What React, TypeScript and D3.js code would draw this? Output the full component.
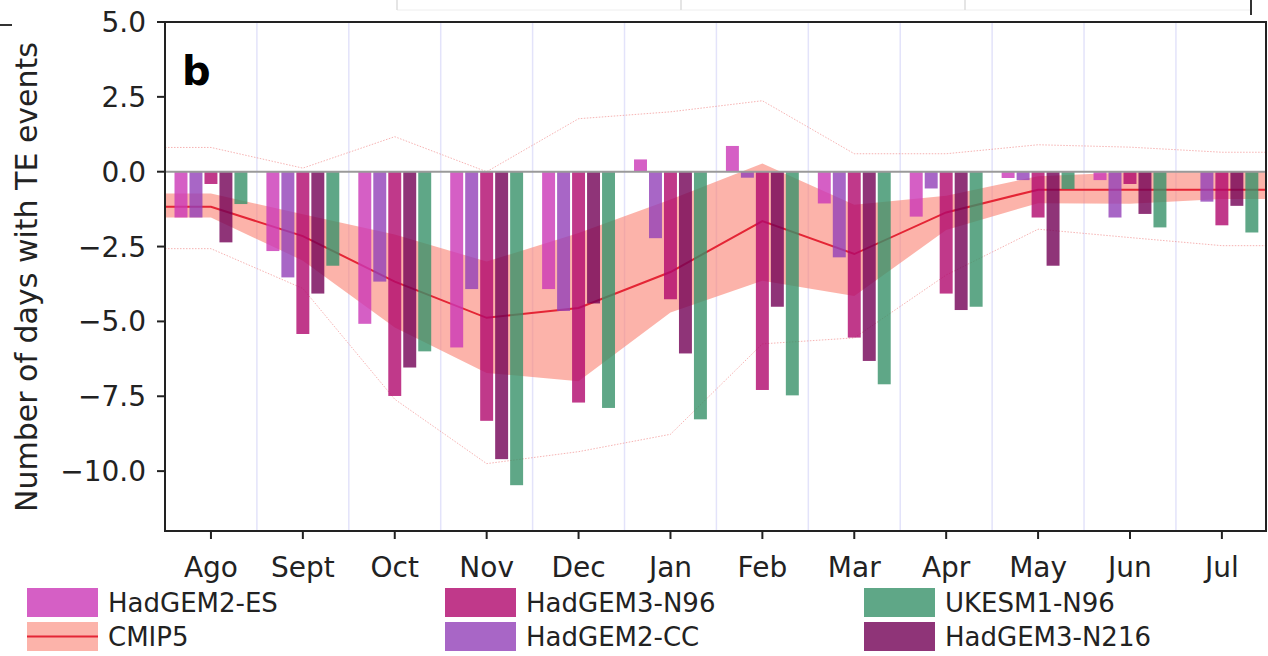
import React from 'react';
import * as d3 from 'd3';

const months = ['Ago', 'Sept', 'Oct', 'Nov', 'Dec', 'Jan', 'Feb', 'Mar', 'Apr', 'May', 'Jun', 'Jul'];

const hadgem2ES = [-1.53, -2.65, -5.08, -5.87, -3.92, 0.41, 0.86, -1.06, -1.5, -0.21, -0.28, 0];
const hadgem2CC = [-1.53, -3.53, -3.67, -3.92, -4.65, -2.22, -0.2, -2.86, -0.56, -0.28, -1.53, -1.0];
const hadgem3N96 = [-0.41, -5.42, -7.49, -8.32, -7.71, -4.26, -7.29, -5.54, -4.07, -1.53, -0.41, -1.79];
const hadgem3N216 = [-2.36, -4.07, -6.54, -9.6, -4.4, -6.07, -4.51, -6.32, -4.62, -3.14, -1.41, -1.14];
const ukesm1N96 = [-1.08, -3.14, -6.0, -10.47, -7.89, -8.27, -7.47, -7.1, -4.51, -0.58, -1.86, -2.03];

const cmip5Median = [-1.17, -2.15, -3.67, -4.88, -4.55, -3.35, -1.65, -2.75, -1.36, -0.6, -0.6, -0.6];
const cmip5Upper = [-0.73, -1.42, -2.1, -3.0, -2.05, -0.93, 0.27, -1.1, -0.8, -0.15, -0.02, 0.0];
const cmip5Lower = [-1.53, -2.97, -5.2, -6.72, -7.0, -4.7, -3.64, -4.15, -1.95, -1.05, -1.07, -0.91];
const cmip5Max = [0.81, 0.12, 1.17, 0.0, 1.77, 2.0, 2.37, 0.6, 0.6, 0.9, 0.82, 0.65];
const cmip5Min = [-2.57, -3.9, -7.6, -9.75, -9.35, -8.77, -5.75, -5.55, -3.45, -1.92, -2.2, -2.47];

const yTicks = [5, 2.5, 0, -2.5, -5, -7.5, -10];

const barSeries = [
  { name: 'HadGEM2-ES', values: hadgem2ES, color: '#ca37b7' },
  { name: 'HadGEM2-CC', values: hadgem2CC, color: '#9240b8' },
  { name: 'HadGEM3-N96', values: hadgem3N96, color: '#b0076d' },
  { name: 'HadGEM3-N216', values: hadgem3N216, color: '#730156' },
  { name: 'UKESM1-N96', values: ukesm1N96, color: '#379169' },
];

const legendItems = [
  { name: 'HadGEM2-ES', kind: 'bar', col: 0, row: 0 },
  { name: 'CMIP5', kind: 'band', col: 0, row: 1 },
  { name: 'HadGEM3-N96', kind: 'bar', col: 1, row: 0 },
  { name: 'HadGEM2-CC', kind: 'bar', col: 1, row: 1 },
  { name: 'UKESM1-N96', kind: 'bar', col: 2, row: 0 },
  { name: 'HadGEM3-N216', kind: 'bar', col: 2, row: 1 },
];

const W = 1268;
const H = 656;
const FONT = '"DejaVu Sans", sans-serif';
const BAR_ALPHA = 0.8;
const BAND_COLOR = '#fa8072';
const LINE_COLOR = '#e42535';

export default function App() {
  const x = d3.scaleLinear().domain([-0.5, 11.48]).range([165, 1266]);
  const y = d3.scaleLinear().domain([-12, 5]).range([531, 22]);
  const [xMin, xMax] = x.domain();

  const idx = months.map((_, i) => i);
  const extX = [xMin, ...idx, xMax];
  const ext = (arr: number[]) => [arr[0], ...arr, arr[arr.length - 1]];

  const medianExt = ext(cmip5Median);
  const upperExt = ext(cmip5Upper);
  const lowerExt = ext(cmip5Lower);
  const maxExt = ext(cmip5Max);
  const minExt = ext(cmip5Min);

  const area = d3
    .area<number>()
    .x((_, i) => x(extX[i]))
    .y0((_, i) => y(lowerExt[i]))
    .y1((_, i) => y(upperExt[i]));

  const lineOf = (vals: number[]) =>
    d3
      .line<number>()
      .x((_, i) => x(extX[i]))
      .y((d) => y(d))(vals) as string;

  const step = 0.163;
  const bw = 0.141;
  const unit = x(1) - x(0);

  const boundaries = d3.range(xMin + 1, xMax, 1);

  const colorOf = (name: string) => barSeries.find((s) => s.name === name)?.color || '#000';

  return (
    <svg
      width={W}
      height={H}
      style={{ position: 'absolute', left: 0, top: 0, background: '#fff' }}
      fontFamily={FONT}
    >
      <rect x={0} y={0} width={W} height={H} fill="#fff" />
      {/* fragments of neighbouring panel */}
      <line x1={0} x2={12} y1={25} y2={25} stroke="#333" strokeWidth={2} />
      <line x1={397} x2={1251} y1={10} y2={10} stroke="#eeeeee" strokeWidth={1} />
      {[397, 681, 965].map((v) => (
        <line key={v} x1={v} x2={v} y1={0} y2={10} stroke="#dddddd" strokeWidth={1.5} />
      ))}
      <line x1={1251} x2={1251} y1={0} y2={15} stroke="#333" strokeWidth={2} />

      {/* vertical grid lines */}
      {boundaries.map((b) => (
        <line key={b} x1={x(b)} x2={x(b)} y1={y(5)} y2={y(-12)} stroke="#e3e3fa" strokeWidth={1.5} />
      ))}

      {/* CMIP5 band */}
      <path d={area(medianExt) as string} fill={BAND_COLOR} fillOpacity={0.6} stroke="none" />
      <path d={lineOf(maxExt)} fill="none" stroke="#f08080" strokeOpacity={0.6} strokeWidth={1} strokeDasharray="1.5,1.5" />
      <path d={lineOf(minExt)} fill="none" stroke="#f08080" strokeOpacity={0.6} strokeWidth={1} strokeDasharray="1.5,1.5" />
      <path d={lineOf(medianExt)} fill="none" stroke={LINE_COLOR} strokeWidth={2} />

      {/* bars */}
      {barSeries.map((s, si) =>
        s.values.map((v, i) => {
          const cx = i + (si - 2) * step;
          const x0 = x(cx - bw / 2);
          const x1 = x(cx + bw / 2);
          const y0 = y(Math.max(0, v));
          const y1 = y(Math.min(0, v));
          return (
            <rect
              key={`${si}-${i}`}
              x={x0}
              y={y0}
              width={x1 - x0}
              height={Math.max(0, y1 - y0)}
              fill={s.color}
              fillOpacity={BAR_ALPHA}
            />
          );
        })
      )}

      {/* zero line */}
      <line x1={x(xMin)} x2={x(xMax)} y1={y(0)} y2={y(0)} stroke="#9a9a9a" strokeWidth={2} />

      {/* spines */}
      <rect
        x={x(xMin)}
        y={y(5)}
        width={x(xMax) - x(xMin)}
        height={y(-12) - y(5)}
        fill="none"
        stroke="#222"
        strokeWidth={2}
      />

      {/* y ticks */}
      {yTicks.map((t) => (
        <g key={t}>
          <line x1={x(xMin) - 8} x2={x(xMin)} y1={y(t)} y2={y(t)} stroke="#222" strokeWidth={2} />
          <text x={146} y={y(t)} dy="0.36em" textAnchor="end" fontSize={28} fill="#222">
            {d3.format('.1f')(t)}
          </text>
        </g>
      ))}

      {/* x ticks */}
      {months.map((m, i) => (
        <g key={m}>
          <line x1={x(i)} x2={x(i)} y1={y(-12)} y2={y(-12) + 8} stroke="#222" strokeWidth={2} />
          <text x={x(i)} y={577} textAnchor="middle" fontSize={28} fill="#222">
            {m}
          </text>
        </g>
      ))}

      {/* y label */}
      <text
        transform={`translate(37, 277) rotate(-90)`}
        textAnchor="middle"
        fontSize={30}
        fill="#222"
      >
        Number of days with TE events
      </text>

      {/* panel letter */}
      <text x={182} y={85} fontSize={40} fontWeight="bold" fill="#000">
        b
      </text>

      {/* legend */}
      {legendItems.map((it) => {
        const colX = [27, 445, 864][it.col];
        const rowY = [588, 622][it.row];
        const pw = 71;
        const ph = 29;
        return (
          <g key={it.name}>
            {it.kind === 'bar' ? (
              <rect x={colX} y={rowY} width={pw} height={ph} fill={colorOf(it.name)} fillOpacity={BAR_ALPHA} />
            ) : (
              <g>
                <rect x={colX} y={rowY} width={pw} height={ph} fill={BAND_COLOR} fillOpacity={0.6} />
                <line x1={colX} x2={colX + pw} y1={rowY + ph / 2} y2={rowY + ph / 2} stroke={LINE_COLOR} strokeWidth={2} />
              </g>
            )}
            <text x={colX + pw + 10} y={rowY + ph / 2} dy="0.36em" fontSize={26} fill="#222">
              {it.name}
            </text>
          </g>
        );
      })}
    </svg>
  );
}
